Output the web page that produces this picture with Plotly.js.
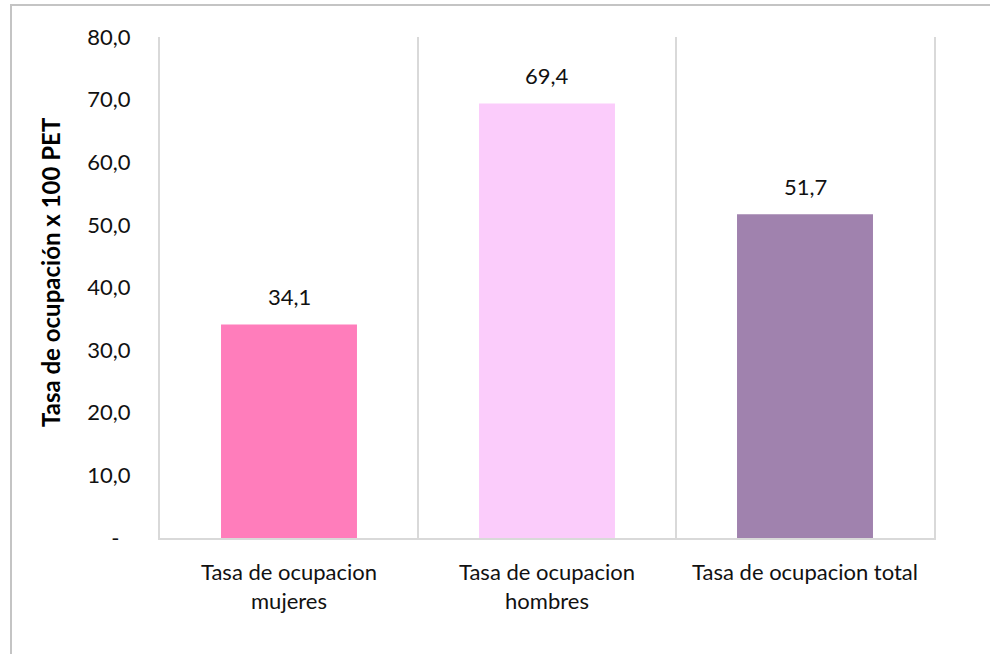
<!DOCTYPE html>
<html><head><meta charset="utf-8">
<script src="https://cdn.plot.ly/plotly-3.0.1.min.js"></script>
<style>
html,body{margin:0;padding:0;background:#fff;}
#wrap{position:relative;width:990px;height:654px;overflow:hidden;}
#chart{position:absolute;left:0;top:0;width:990px;height:654px;}
#frame{position:absolute;left:10px;top:4px;width:990px;height:700px;border-top:2px solid #c4c4c4;border-left:2px solid #c4c4c4;pointer-events:none;}
</style></head>
<body><div id="wrap"><div id="chart"></div><div id="frame"></div></div>
<script>
const categories = ["Tasa de ocupacion<br>mujeres", "Tasa de ocupacion<br>hombres", "Tasa de ocupacion total"];
const values = [34.1, 69.4, 51.7];
const barColors = ["#FF7DBB", "#FBCCFB", "#A082AE"];
const labels = ["34,1", "69,4", "51,7"];
const tickVals = [0, 10, 20, 30, 40, 50, 60, 70, 80];
const tickText = ["-\u00a0\u00a0", "10,0", "20,0", "30,0", "40,0", "50,0", "60,0", "70,0", "80,0"];
const yTitle = "Tasa de ocupación x 100 PET";

const FONT = "Lato, 'Open Sans', sans-serif";
const trace = {
  type: "bar",
  x: categories,
  y: values,
  marker: {color: barColors},
  hoverinfo: "skip"
};
const annotations = categories.map((c, i) => ({
  x: c, y: values[i], xref: "x", yref: "y",
  text: labels[i], showarrow: false, yanchor: "bottom", yshift: 12,
  font: {family: FONT, size: 22, color: "#111"}
}));
annotations.push({
  xref: "paper", yref: "paper", x: (50 - 160) / 774, y: (538 - 272) / 501,
  text: yTitle, textangle: -90, showarrow: false, xanchor: "center", yanchor: "middle",
  font: {family: FONT, size: 24, color: "#000", weight: "bold"}
});
const layout = {
  width: 990, height: 654,
  margin: {l: 160, r: 56, t: 37, b: 116},
  paper_bgcolor: "#fff", plot_bgcolor: "#fff",
  bargap: 0.473,
  showlegend: false,
  font: {family: FONT, size: 22, color: "#111"},
  xaxis: {
    type: "category",
    tickson: "boundaries",
    showgrid: true, gridcolor: "#d9d9d9", gridwidth: 2,
    showline: true, linecolor: "#d9d9d9", linewidth: 2,
    ticks: "", ticklen: 0, ticklabelstandoff: 14,
    tickfont: {family: FONT, size: 22, color: "#111"},
    fixedrange: true
  },
  yaxis: {
    range: [0, 80],
    tickvals: tickVals, ticktext: tickText,
    showgrid: false, zeroline: false,
    showline: true, mirror: true, linecolor: "#d9d9d9", linewidth: 2,
    ticks: "", ticklabelstandoff: 23,
    tickfont: {family: FONT, size: 22, color: "#111"},
    fixedrange: true
  },
  annotations: annotations
};
Plotly.newPlot("chart", [trace], layout, {displayModeBar: false, staticPlot: true});
</script></body></html>
